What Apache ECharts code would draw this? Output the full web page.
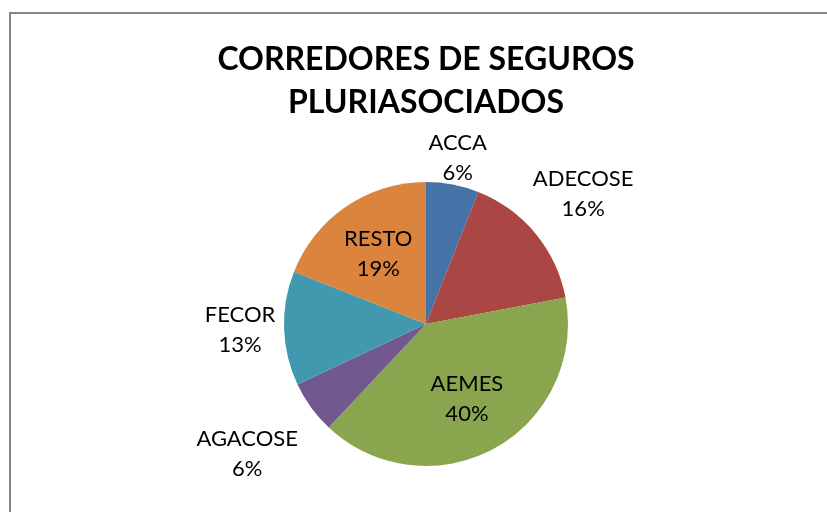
<!DOCTYPE html>
<html>
<head>
<meta charset="utf-8">
<script src="https://cdn.jsdelivr.net/npm/echarts@6/dist/echarts.min.js"></script>
<style>
  html, body { margin: 0; padding: 0; background: #fff; }
  #chart { width: 827px; height: 512px; }
</style>
</head>
<body>
<div id="chart"></div>
<script>
  // pie data, clockwise from 12 o'clock
  var names = ['ACCA', 'ADECOSE', 'AEMES', 'AGACOSE', 'FECOR', 'RESTO']
  var values = [6, 16, 40, 6, 13, 19]
  var colors = ['#4572A7', '#AA4643', '#89A54E', '#71588F', '#4198AF', '#DB843D']
  // how far each label sits from the rim (negative = inside the slice)
  var labelOffsets = [27, 62, -57, 79, 44, -57]

  var chart = echarts.init(document.getElementById('chart'))

  var data = names.map(function (n, i) {
    return {
      name: n,
      value: values[i],
      itemStyle: { color: colors[i] },
      labelLine: { show: false, length: labelOffsets[i], length2: 0 }
    }
  })

  chart.setOption({
    backgroundColor: '#fff',
    animation: false,
    title: {
      text: 'CORREDORES DE SEGUROS\nPLURIASOCIADOS',
      left: 421,
      textAlign: 'center',
      top: 33,
      textStyle: {
        fontFamily: 'Lato',
        fontWeight: 'bold',
        fontSize: 32,
        lineHeight: 43,
        color: '#000'
      }
    },
    graphic: [{
      type: 'rect',
      shape: { x: 10, y: 13, width: 900, height: 600 },
      style: { fill: 'none', stroke: '#868686', lineWidth: 2 },
      silent: true
    }],
    series: [{
      type: 'pie',
      center: [426, 324],
      radius: 142,
      startAngle: 90,
      clockwise: true,
      avoidLabelOverlap: false,
      label: {
        show: true,
        position: 'outside',
        distanceToLabelLine: 0,
        formatter: '{b}\n{d}%',
        fontFamily: 'Lato',
        fontSize: 22,
        lineHeight: 30,
        color: '#000'
      },
      labelLayout: function () {
        return { align: 'center', verticalAlign: 'middle' }
      },
      itemStyle: { borderWidth: 0 },
      data: data
    }]
  })
</script>
</body>
</html>
